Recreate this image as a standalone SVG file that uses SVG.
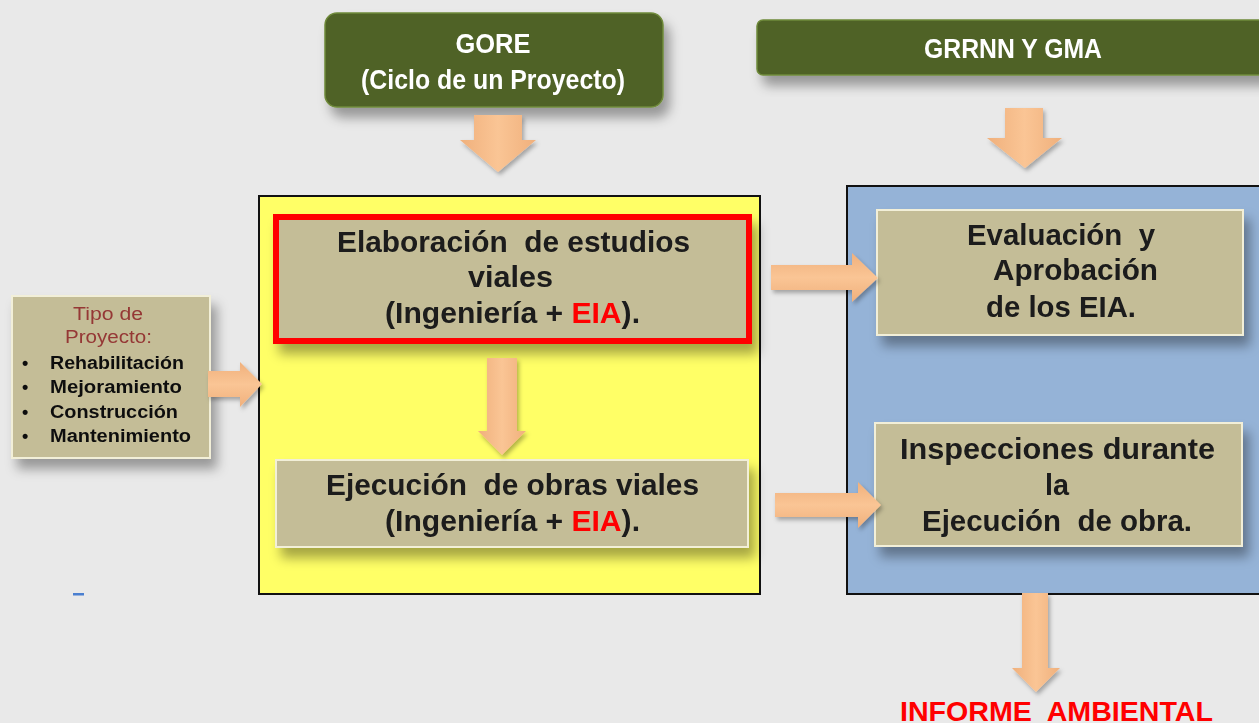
<svg xmlns="http://www.w3.org/2000/svg" width="1259" height="723" viewBox="0 0 1259 723">
<defs>
<filter id="sh" x="-20%" y="-20%" width="150%" height="160%">
<feDropShadow dx="6" dy="10" stdDeviation="6" flood-color="#000" flood-opacity="0.35"/>
</filter>
<filter id="sha" x="-30%" y="-30%" width="170%" height="170%">
<feDropShadow dx="2" dy="3" stdDeviation="2" flood-color="#000" flood-opacity="0.3"/>
</filter>
<linearGradient id="ah" x1="0" y1="0" x2="1" y2="0">
<stop offset="0" stop-color="#f0b07c"/>
<stop offset="0.5" stop-color="#fac595"/>
<stop offset="1" stop-color="#f0b07c"/>
</linearGradient>
<linearGradient id="av" x1="0" y1="0" x2="0" y2="1">
<stop offset="0" stop-color="#f0b07c"/>
<stop offset="0.5" stop-color="#fac595"/>
<stop offset="1" stop-color="#f0b07c"/>
</linearGradient>
</defs>
<style>
.hdr{fill:#4f6228;stroke:#6f8a3a;stroke-width:1.5}
.tan{fill:#c4bd97;stroke:#f2efd8;stroke-width:2}
.ht{font-family:"Liberation Sans",Arial,sans-serif;font-size:27px;font-weight:bold;fill:#fff;text-anchor:middle}
.bt{font-family:"Liberation Sans",Arial,sans-serif;font-size:30px;font-weight:bold;fill:#1a1a1a}
.st{font-family:"Liberation Sans",Arial,sans-serif;font-size:18px;font-weight:bold;fill:#111}
.rt{font-family:"Liberation Sans",Arial,sans-serif;font-size:18px;fill:#953735}
.red{fill:#ff0000}
.av{fill:url(#ah)}
.ah{fill:url(#av)}
</style>
<rect width="1259" height="723" fill="#e9e9e9"/>

<g id="gore" filter="url(#sh)">
<rect class="hdr" x="325" y="13" width="338" height="94" rx="12"/>
<text class="ht" x="493" y="53" textLength="75" lengthAdjust="spacingAndGlyphs">GORE</text>
<text class="ht" x="493" y="89" textLength="264" lengthAdjust="spacingAndGlyphs">(Ciclo de un Proyecto)</text>
</g>

<g id="grrnn" filter="url(#sh)">
<rect class="hdr" x="757" y="20" width="520" height="55" rx="6"/>
<text class="ht" x="1013" y="58" textLength="178" lengthAdjust="spacingAndGlyphs">GRRNN Y GMA</text>
</g>

<g id="yellow-panel">
<rect x="259" y="196" width="501" height="398" fill="#ffff66" stroke="#111" stroke-width="2"/>
</g>

<g id="blue-panel">
<rect x="847" y="186" width="420" height="408" fill="#95b3d7" stroke="#111" stroke-width="2"/>
</g>

<g id="tipo" filter="url(#sh)">
<rect class="tan" x="12" y="296" width="198" height="162"/>
<text class="rt" x="73" y="320" textLength="70" lengthAdjust="spacingAndGlyphs">Tipo de</text>
<text class="rt" x="65" y="343" textLength="87" lengthAdjust="spacingAndGlyphs">Proyecto:</text>
<text class="st" x="22" y="369">•</text><text class="st" x="50" y="369" textLength="134" lengthAdjust="spacingAndGlyphs">Rehabilitación</text>
<text class="st" x="22" y="393">•</text><text class="st" x="50" y="393" textLength="132" lengthAdjust="spacingAndGlyphs">Mejoramiento</text>
<text class="st" x="22" y="418">•</text><text class="st" x="50" y="418" textLength="128" lengthAdjust="spacingAndGlyphs">Construcción</text>
<text class="st" x="22" y="442">•</text><text class="st" x="50" y="442" textLength="141" lengthAdjust="spacingAndGlyphs">Mantenimiento</text>
</g>

<g id="elaboracion" filter="url(#sh)">
<rect x="276" y="217" width="473" height="124" fill="#c4bd97" stroke="#ff0000" stroke-width="6"/>
<text class="bt" x="337" y="252" textLength="353" lengthAdjust="spacingAndGlyphs" xml:space="preserve">Elaboración  de estudios</text>
<text class="bt" x="468" y="287" textLength="85" lengthAdjust="spacingAndGlyphs">viales</text>
<text class="bt" x="385" y="323" textLength="255" lengthAdjust="spacingAndGlyphs">(Ingeniería + <tspan class="red">EIA</tspan>).</text>
</g>

<g id="ejecucion" filter="url(#sh)">
<rect class="tan" x="276" y="460" width="472" height="87"/>
<text class="bt" x="326" y="495" textLength="373" lengthAdjust="spacingAndGlyphs" xml:space="preserve">Ejecución  de obras viales</text>
<text class="bt" x="385" y="531" textLength="255" lengthAdjust="spacingAndGlyphs">(Ingeniería + <tspan class="red">EIA</tspan>).</text>
</g>

<g id="evaluacion" filter="url(#sh)">
<rect class="tan" x="877" y="210" width="366" height="125"/>
<text class="bt" x="967" y="245" textLength="188" lengthAdjust="spacingAndGlyphs" xml:space="preserve">Evaluación  y</text>
<text class="bt" x="993" y="280" textLength="165" lengthAdjust="spacingAndGlyphs">Aprobación</text>
<text class="bt" x="986" y="317" textLength="150" lengthAdjust="spacingAndGlyphs">de los EIA.</text>
</g>

<g id="inspecciones" filter="url(#sh)">
<rect class="tan" x="875" y="423" width="367" height="123"/>
<text class="bt" x="900" y="459" textLength="315" lengthAdjust="spacingAndGlyphs">Inspecciones durante</text>
<text class="bt" x="1045" y="495" textLength="24" lengthAdjust="spacingAndGlyphs">la</text>
<text class="bt" x="922" y="531" textLength="270" lengthAdjust="spacingAndGlyphs" xml:space="preserve">Ejecución  de obra.</text>
</g>

<g id="informe">
<text x="900" y="721" font-family="Liberation Sans,Arial,sans-serif" font-size="28" font-weight="bold" fill="#ff0000" textLength="313" lengthAdjust="spacingAndGlyphs" xml:space="preserve">INFORME  AMBIENTAL</text>
</g>

<g id="connectors" filter="url(#sha)">
<polygon class="av" points="474,115 522,115 522,140 536,140 498,172 460,140 474,140"/>
<polygon class="av" points="1005,108 1043,108 1043,138 1062,138 1025,168 987,138 1005,138"/>
<polygon class="av" points="487,358 517,358 517,431 526,431 502,455 478,431 487,431"/>
<polygon class="av" points="1022,593 1048,593 1048,668 1060,668 1036,692 1012,668 1022,668"/>
<polygon class="ah" points="208,371 240,371 240,362 262,384 240,407 240,397 208,397"/>
<polygon class="ah" points="771,265 852,265 852,253 878,278 852,302 852,290 771,290"/>
<polygon class="ah" points="775,493 858,493 858,482 881,505 858,528 858,517 775,517"/>
</g>

<rect x="73" y="593" width="11" height="2.5" fill="#4a7fd0"/>
</svg>
